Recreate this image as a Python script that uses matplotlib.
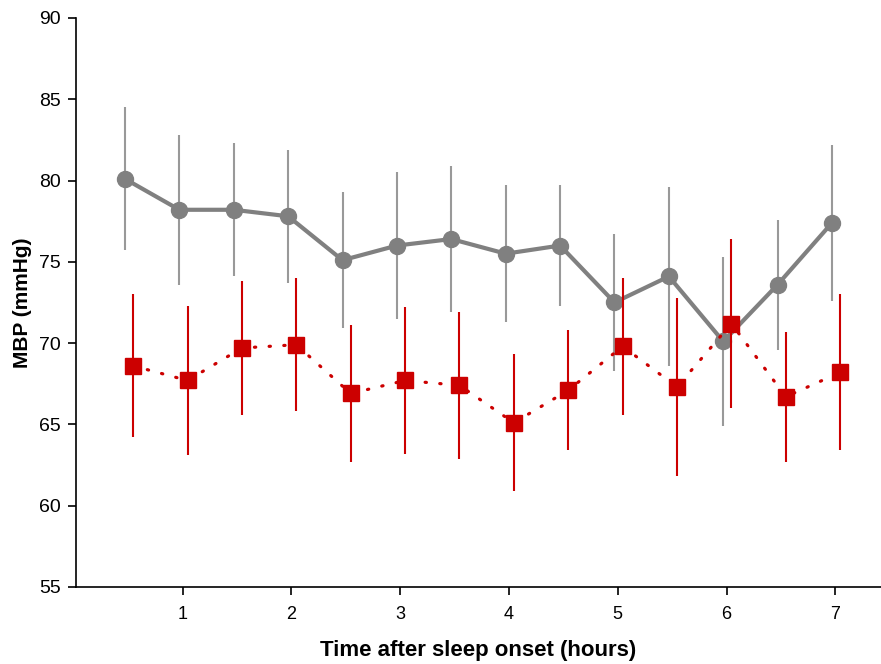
import numpy as np
import matplotlib
matplotlib.use("Agg")
import matplotlib.pyplot as plt

plt.rcParams['font.family'] = ['Liberation Sans', 'DejaVu Sans']

# hours after sleep onset
hours = [0.5, 1.0, 1.5, 2.0, 2.5, 3.0, 3.5, 4.0, 4.5, 5.0, 5.5, 6.0, 6.5, 7.0]

# grey series (circles, solid line)
grey_mbp = [80.1, 78.2, 78.2, 77.8, 75.1, 76.0, 76.4, 75.5, 76.0, 72.5, 74.1, 70.1, 73.6, 77.4]
grey_sd = [4.4, 4.6, 4.1, 4.1, 4.2, 4.5, 4.5, 4.2, 3.7, 4.2, 5.5, 5.2, 4.0, 4.8]

# red series (squares, dotted line)
red_mbp = [68.6, 67.7, 69.7, 69.9, 66.9, 67.7, 67.4, 65.1, 67.1, 69.8, 67.3, 71.2, 66.7, 68.2]
red_sd = [4.4, 4.6, 4.1, 4.1, 4.2, 4.5, 4.5, 4.2, 3.7, 4.2, 5.5, 5.2, 4.0, 4.8]

grey = "#808080"
red = "#CC0000"

fig = plt.figure(figsize=(8.81, 6.64), dpi=100)
ax = fig.add_axes([0.0863, 0.116, 0.9137, 0.857])

# small horizontal offsets so the two groups don't overlap
x_grey = np.array(hours) - 0.03
x_red = np.array(hours) + 0.045

# error bars
ax.errorbar(x_grey, grey_mbp, yerr=grey_sd, fmt="none", ecolor="#999999",
            elinewidth=1.5, capsize=0, zorder=1)
ax.errorbar(x_red, red_mbp, yerr=red_sd, fmt="none", ecolor=red,
            elinewidth=1.5, capsize=0, zorder=3)

# lines + markers
ax.plot(x_grey, grey_mbp, color=grey, linewidth=3, marker="o", markersize=11.5,
        markeredgecolor=grey, zorder=2)
ax.plot(x_red, red_mbp, color=red, linewidth=2.3, linestyle=(0, (0.4, 4.2)),
        dash_capstyle="round", zorder=3)
ax.plot(x_red, red_mbp, linestyle="none", marker="s", markersize=11.5,
        color=red, markeredgecolor=red, zorder=4)

ax.set_xlim(0.02, 7.42)
ax.set_ylim(55, 90)
ax.set_xticks([1, 2, 3, 4, 5, 6, 7])
ax.set_yticks(np.arange(55, 91, 5))

for side in ["top", "right"]:
    ax.spines[side].set_visible(False)
ax.spines["left"].set_linewidth(1.2)
ax.spines["bottom"].set_linewidth(1.2)
ax.tick_params(direction="out", length=6, width=1.2, labelsize=14, pad=5)
ax.tick_params(axis="x", pad=8, labelsize=13)

ax.set_xlabel("Time after sleep onset (hours)", fontsize=16, fontweight="bold", labelpad=12)
ax.set_ylabel("MBP (mmHg)", fontsize=15, fontweight="bold", labelpad=5)

fig.savefig("out.png", dpi=100)
